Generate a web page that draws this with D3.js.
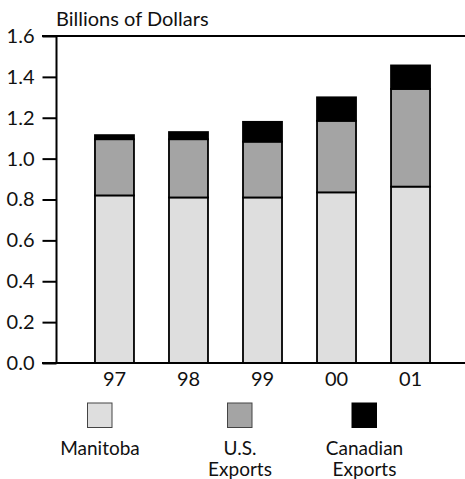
<!DOCTYPE html>
<html><head><meta charset="utf-8">
<script src="https://cdn.jsdelivr.net/npm/d3@7/dist/d3.min.js"></script>
<style>body{margin:0;background:#fff}svg{display:block}text{font-family:Lato,"Open Sans",sans-serif;fill:#111}</style>
</head><body><svg id="c" width="465" height="479"></svg>
<script>
const years = ["97","98","99","00","01"];
const manitoba = [0.82, 0.81, 0.81, 0.835, 0.863];
const usExports = [0.275, 0.285, 0.273, 0.35, 0.478];
const canadianExports = [0.02, 0.035, 0.097, 0.115, 0.115];
const seriesNames = ["Manitoba", "U.S.\nExports", "Canadian\nExports"];
const seriesColors = ["#dedede", "#a4a4a4", "#000000"];
const yTicks = [0, 0.2, 0.4, 0.6, 0.8, 1.0, 1.2, 1.4, 1.6];

const svg = d3.select("#c");
const fs = 20;
const y = d3.scaleLinear().domain([0, 1.6]).range([363, 36]);
const x = d3.scaleBand().domain(years).range([77.5, 447.5]).paddingInner(0.473).paddingOuter(0.236);

const rows = years.map((yr, i) => ({year: yr, m: manitoba[i], u: usExports[i], c: canadianExports[i]}));
const stack = d3.stack().keys(["m","u","c"])(rows);

// bars
stack.forEach((layer, li) => {
  svg.append("g").selectAll("rect").data(layer).join("rect")
    .attr("x", d => x(d.data.year))
    .attr("y", d => y(d[1]))
    .attr("width", x.bandwidth())
    .attr("height", d => y(d[0]) - y(d[1]))
    .attr("fill", seriesColors[li])
    .attr("stroke", "#000").attr("stroke-width", 1.8);
});

// axes lines
const axisX = 56.5;
svg.append("line").attr("x1", 42).attr("x2", 465).attr("y1", y(1.6)).attr("y2", y(1.6)).attr("stroke","#000").attr("stroke-width",2);
svg.append("line").attr("x1", 42).attr("x2", 465).attr("y1", y(0)).attr("y2", y(0)).attr("stroke","#000").attr("stroke-width",2);
svg.append("line").attr("x1", axisX).attr("x2", axisX).attr("y1", y(1.6)).attr("y2", y(0)).attr("stroke","#000").attr("stroke-width",2);

const yAxis = d3.axisLeft(y).tickValues(yTicks).tickFormat(d3.format(".1f")).tickSize(14).tickPadding(8);
const gy = svg.append("g").attr("transform", `translate(${axisX},0)`).call(yAxis);
gy.select(".domain").remove();
gy.selectAll(".tick line").attr("stroke","#000").attr("stroke-width",2);
gy.selectAll(".tick text").attr("font-size", fs).attr("font-family","Lato,sans-serif").attr("fill","#111");

const xAxis = d3.axisBottom(x).tickSize(0).tickPadding(9);
const gx = svg.append("g").attr("transform", `translate(0,${y(0)})`).call(xAxis);
gx.select(".domain").remove();
gx.selectAll(".tick text").attr("font-size", fs).attr("font-family","Lato,sans-serif").attr("fill","#111");

svg.append("text").attr("x", 56).attr("y", 26).attr("font-size", fs).text("Billions of Dollars");

// legend
const legX = [100, 240, 364.5];
seriesNames.forEach((name, i) => {
  svg.append("rect").attr("x", legX[i] - 12.5).attr("y", 403).attr("width", 24.5).attr("height", 24.5)
    .attr("fill", seriesColors[i]).attr("stroke", i === 2 ? "#000" : "#444").attr("stroke-width", 1);
  const t = svg.append("text").attr("x", legX[i]).attr("y", 455).attr("text-anchor","middle").attr("font-size", 19);
  name.split("\n").forEach((ln, j) => t.append("tspan").attr("x", legX[i]).attr("dy", j ? 21 : 0).text(ln));
});
</script></body></html>
